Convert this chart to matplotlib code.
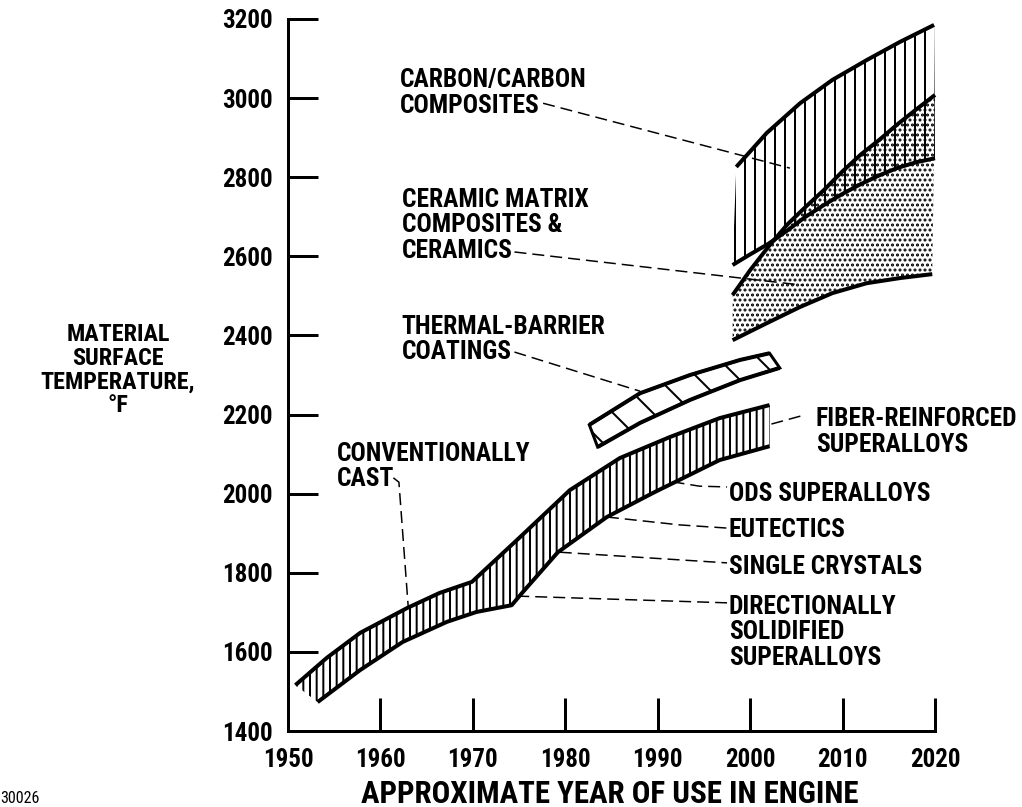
import matplotlib
matplotlib.use("Agg")
import matplotlib.pyplot as plt

# superalloy band (conventionally cast -> fiber-reinforced)
band_up_yr = [1950.8, 1954.2, 1957.8, 1962.9, 1966.4, 1969.9, 1975.1, 1980.5, 1985.9, 1991.3, 1996.7, 2002.1]
band_up_t = [1516, 1585, 1648, 1711, 1749, 1777, 1890, 2009, 2090, 2143, 2191, 2224]
band_lo_yr = [1953.2, 1957.8, 1962.4, 1967.2, 1970.4, 1974.2, 1975.4, 1979.2, 1984.5, 1989.5, 1996.7, 2002.1]
band_lo_t = [1473, 1554, 1625, 1676, 1701, 1718, 1751, 1852, 1941, 2002, 2085, 2120]

# thermal-barrier coatings
tbc_up_yr = [1982.6, 1988.1, 1993.5, 1998.9, 2002.1]
tbc_up_t = [2174, 2254, 2300, 2338, 2355]
tbc_lo_yr = [1983.5, 1988.1, 1993.5, 1998.9, 2003.2]
tbc_lo_t = [2118, 2179, 2237, 2287, 2318]

# carbon/carbon composites
cc_up_yr = [1998.5, 2001.8, 2005.4, 2008.9, 2012.6, 2016.2, 2019.9]
cc_up_t = [2826, 2912, 2987, 3046, 3096, 3142, 3185]
cc_lo_yr = [1998.1, 2000, 2002, 2004, 2006, 2008, 2010, 2012, 2014, 2016, 2018, 2020]
cc_lo_t = [2578, 2605, 2632, 2665, 2700, 2730, 2758, 2783, 2805, 2824, 2838, 2848]

# ceramic matrix composites & ceramics
cmc_up_yr = [1998.1, 2000, 2002, 2004, 2006, 2008, 2010, 2012, 2014, 2016, 2018, 2020]
cmc_up_t = [2502, 2565, 2625, 2680, 2725, 2768, 2815, 2858, 2895, 2935, 2972, 3008]
cmc_lo_yr = [1998.1, 2001.8, 2005.4, 2008.9, 2012.6, 2016.2, 2019.7]
cmc_lo_t = [2388, 2431, 2472, 2507, 2532, 2545, 2555]

# labels: text, left year, top temperature, leader line (years, temps)
labels = [
    ("CARBON/CARBON\nCOMPOSITES", 1962.1, 3076, [1977.6, 2004.3], [2987, 2823]),
    ("CERAMIC MATRIX\nCOMPOSITES &\nCERAMICS", 1962.3, 2773, [1974.5, 2005.7], [2611, 2527]),
    ("THERMAL-BARRIER\nCOATINGS", 1962.3, 2452, [1974.5, 1988.1], [2358, 2259]),
    ("CONVENTIONALLY\nCAST", 1955.3, 2131, [1961.4, 1962.0, 1963.0], [2040, 2029, 1716]),
    ("FIBER-REINFORCED\nSUPERALLOYS", 2007.1, 2219, [2002.3, 2005.9], [2176, 2199]),
    ("ODS SUPERALLOYS", 1997.7, 2029, [1991.6, 1994.5, 1997.5], [2030, 2019, 2017]),
    ("EUTECTICS", 1997.7, 1938, [1984.5, 1992.4, 1997.5], [1941, 1921, 1913]),
    ("SINGLE CRYSTALS", 1997.7, 1845, [1979.4, 1997.5], [1852, 1825]),
    ("DIRECTIONALLY\nSOLIDIFIED\nSUPERALLOYS", 1997.7, 1744, [1974.8, 1997.5], [1741, 1724]),
]

years = [1950, 1960, 1970, 1980, 1990, 2000, 2010, 2020]
temps = [1400, 1600, 1800, 2000, 2200, 2400, 2600, 2800, 3000, 3200]

plt.rcParams['font.family'] = ['Roboto Condensed', 'Liberation Sans Narrow', 'Roboto', 'DejaVu Sans']
plt.rcParams['font.weight'] = 'bold'
plt.rcParams['hatch.linewidth'] = 1.2

fig = plt.figure(figsize=(1022 / 120, 807 / 120), dpi=120)
ax = fig.add_axes([288 / 1022, 76 / 807, 647 / 1022, 712 / 807])
ax.set_xlim(1950, 2020)
ax.set_ylim(1400, 3200)

lw = 2.4


def band(up_x, up_y, lo_x, lo_y, hatch, edge=0):
    ax.fill(up_x + lo_x[::-1], up_y + lo_y[::-1], facecolor='none', edgecolor='black',
            hatch=hatch, linewidth=edge, clip_on=False)
    ax.plot(up_x, up_y, color='black', lw=lw, solid_capstyle='butt', clip_on=False)
    ax.plot(lo_x, lo_y, color='black', lw=lw, solid_capstyle='butt', clip_on=False)


band(band_up_yr, band_up_t, band_lo_yr, band_lo_t, '|||')
band(tbc_up_yr, tbc_up_t, tbc_lo_yr, tbc_lo_t, '\\', edge=1.8)
band(cc_up_yr, cc_up_t, cc_lo_yr, cc_lo_t, '||')
band(cmc_up_yr, cmc_up_t, cmc_lo_yr, cmc_lo_t, '....')

for text, tx, ty, lx, ly in labels:
    ax.text(tx, ty, text, ha='left', va='top', fontsize=15.3, linespacing=1.08)
    ax.plot(lx, ly, color='black', lw=0.9, dashes=(8, 4), clip_on=False)

for s in ['top', 'right']:
    ax.spines[s].set_visible(False)
for s in ['left', 'bottom']:
    ax.spines[s].set_linewidth(1.8)

ax.set_xticks(years)
ax.set_yticks(temps)
ax.tick_params(axis='y', direction='in', length=18, width=1.8, pad=9, labelsize=15)
ax.tick_params(axis='x', direction='in', length=19.8, width=1.8, pad=10, labelsize=15)
for t in ax.get_xticklines() + ax.get_yticklines():
    t.set_clip_on(False)

fig.text(118 / 1022, 1 - 370 / 807, "MATERIAL\nSURFACE\nTEMPERATURE,\n°F",
         ha='center', va='center', multialignment='center', fontsize=14.5, linespacing=1.05)
fig.text(610 / 1022, 1 - 803 / 807, "APPROXIMATE YEAR OF USE IN ENGINE",
         ha='center', va='baseline', fontsize=18.6)
fig.text(0.0, 1 - 803 / 807, "30026", ha='left', va='baseline', fontsize=9.6,
         fontweight='normal')

fig.savefig("out.png", dpi=120)
